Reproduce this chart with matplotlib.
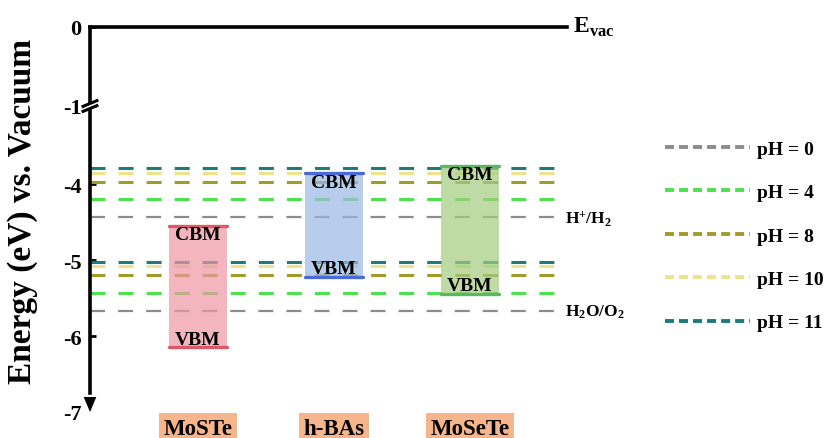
import numpy as np
import matplotlib
matplotlib.use("Agg")
import matplotlib.pyplot as plt
from matplotlib.lines import Line2D
from matplotlib.transforms import Affine2D, ScaledTranslation

plt.rcParams["font.family"] = ["Liberation Serif", "DejaVu Serif"]
plt.rcParams["font.weight"] = "bold"
plt.rcParams["mathtext.fontset"] = "custom"
plt.rcParams["mathtext.rm"] = "Liberation Serif"
plt.rcParams["mathtext.bf"] = "Liberation Serif:bold"
plt.rcParams["lines.scale_dashes"] = False

# band edges (eV vs vacuum)
materials = ["MoSTe", "h-BAs", "MoSeTe"]
cbm = [-4.55, -3.86, -3.76]
vbm = [-6.15, -5.22, -5.45]

# water redox potentials at several pH values
ph_values = [0, 4, 8, 10, 11]
h_levels = [-4.44, -4.20, -3.97, -3.85, -3.79]   # H+/H2
o_levels = [-5.67, -5.43, -5.20, -5.08, -5.02]   # H2O/O2

y_ticks = [0, -1, -4, -5, -6, -7]

ph_colors = ["#8c8c8c", "#4fe04f", "#a39a2c", "#ece38c", "#1f7b7b"]
ph_widths = [1.6, 2.2, 2.2, 2.2, 2.2]
box_fill = ["#ef97a3", "#9bb8e3", "#a3cd80"]
box_edge = ["#dd5868", "#4a6ad8", "#5cb85c"]

# broken axis: the stretch between E_BRK and -1 is squeezed
E_BRK = -3.6
K_MID = 0.63 / 2.6
K_TOP = 1.04
Y_BRK = E_BRK
Y_ONE = E_BRK + (-1 - E_BRK) * K_MID


def fwd(e):
    e = np.asarray(e, dtype=float)
    return np.where(e <= E_BRK, e,
                    np.where(e <= -1, Y_BRK + (e - E_BRK) * K_MID,
                             Y_ONE + (e + 1) * K_TOP))


def inv(y):
    y = np.asarray(y, dtype=float)
    return np.where(y <= Y_BRK, y,
                    np.where(y <= Y_ONE, E_BRK + (y - Y_BRK) / K_MID,
                             -1 + (y - Y_ONE) / K_TOP))


fig = plt.figure(figsize=(8.24, 4.39), dpi=100)
ax = fig.add_axes([90 / 824, 1 - 413 / 439, (567 - 90) / 824, (413 - 27.7) / 439])
ax.set_yscale("function", functions=(fwd, inv))
ax.set_ylim(-7, 0)
x_lo, x_hi = -0.794, 2.713
ax.set_xlim(x_lo, x_hi)
line_end = 2.676

# redox levels
for lv_h, lv_o, c, lw in zip(h_levels, o_levels, ph_colors, ph_widths):
    for lv in (lv_h, lv_o):
        ax.add_line(Line2D([x_lo, line_end], [lv, lv], color=c, lw=lw,
                           dashes=(10.8, 9.4), zorder=2))

# band boxes
bw = 0.42
for i, (c_, v_) in enumerate(zip(cbm, vbm)):
    ax.fill_between([i - bw / 2, i + bw / 2], v_, c_, color=box_fill[i],
                    alpha=0.7, lw=0, zorder=3)
    for lv in (c_, v_):
        ax.plot([i - bw / 2, i + bw / 2], [lv, lv], color=box_edge[i], lw=2.4,
                solid_capstyle="round", zorder=4)
    ax.annotate("CBM", (i, c_), xytext=(0, -6.5), textcoords="offset points",
                ha="center", va="center", fontsize=14, zorder=5)
    ax.annotate("VBM", (i, v_), xytext=(0, 6.0), textcoords="offset points",
                ha="center", va="center", fontsize=14, zorder=5)
    ax.text(i, -0.057, materials[i], transform=ax.get_xaxis_transform(),
            ha="center", va="baseline", fontsize=16.5,
            bbox=dict(boxstyle="square,pad=0.2", fc="#f6b58a", ec="none"))

ax.text(2.70, h_levels[0], r"$\mathrm{H^{+}/H_{2}}$", ha="left", va="center",
        fontsize=12.5)
ax.text(2.70, o_levels[0], r"$\mathrm{H_{2}O/O_{2}}$", ha="left", va="center",
        fontsize=12.5)
ax.text(2.755, 0, r"$\mathbf{E}_{\mathbf{vac}}$", ha="left", va="center",
        fontsize=17)

# axes frame: thick left axis with arrow, top line at E_vac
for s in ("right", "bottom"):
    ax.spines[s].set_visible(False)
ax.spines["left"].set_linewidth(2.6)
ax.spines["top"].set_linewidth(2.6)
ax.spines["left"].set_bounds(-6.75, 0)
ax.set_xticks([])
ax.set_yticks(y_ticks)
ax.set_yticklabels([str(t) for t in y_ticks])
ax.tick_params(axis="y", direction="in", length=4, width=2, labelsize=16, pad=6)
ax.yaxis.get_major_ticks()[-1].tick1line.set_visible(False)

ax.annotate("", xy=(0, -7.0), xytext=(0, -6.6), xycoords=ax.get_yaxis_transform(),
            arrowprops=dict(arrowstyle="-|>,head_length=0.9,head_width=0.38",
                            mutation_scale=12, color="black", lw=0,
                            shrinkA=0, shrinkB=0),
            annotation_clip=False)

# axis break marker at -1
brk = (Affine2D().scale(1 / 72) + fig.dpi_scale_trans
       + ScaledTranslation(0, -1, ax.get_yaxis_transform()))
ax.fill([-6, 6, 6, -6], [-4.6, 0.4, 3.4, -1.6], color="white",
        transform=brk, clip_on=False, zorder=6)
for dy in (-1.9, 1.7):
    ax.plot([-6, 6], [-2.6 + dy, 2.4 + dy], color="black", lw=2.2,
            transform=brk, clip_on=False, zorder=7, solid_capstyle="butt")

fig.text(23 / 824, 1 - 211 / 439, "Energy (eV) vs. Vacuum", rotation=90,
         ha="center", va="center", fontsize=24)

handles = [Line2D([], [], color=c, lw=2.8, dashes=(6.5, 3.6)) for c in ph_colors]
fig.legend(handles, [f"pH = {p}" for p in ph_values], loc="upper left",
           bbox_to_anchor=(665 / 824, 1 - 141 / 439), frameon=False,
           fontsize=14, handlelength=4.37, handletextpad=0.36,
           labelspacing=1.33, borderpad=0, borderaxespad=0)

fig.savefig("out.png", dpi=100)
